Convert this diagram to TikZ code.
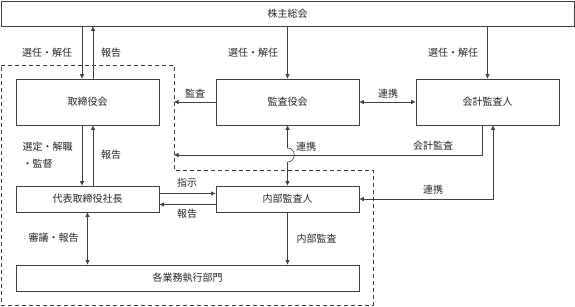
\documentclass[tikz,border=0pt]{standalone}
\usepackage{fontspec}
\newfontfamily\jpfont{Noto Sans CJK JP}
\usetikzlibrary{arrows.meta,calc}
\tikzset{
  % --- generic nodes ---------------------------------------------------
  base/.style    ={draw=black!75, line width=0.6pt, inner sep=0pt,
                   font=\jpfont\fontsize{10}{12}\selectfont, text=black!85},
  box/.style     ={base, rectangle, fill=white},
  % --- arrows ----------------------------------------------------------
  arrow/.style   ={-{Latex[length=4.5pt,width=4.5pt]}, line width=0.6pt, draw=black!75},
  dbarrow/.style ={{Latex[length=4.5pt,width=4.5pt]}-{Latex[length=4.5pt,width=4.5pt]},
                   line width=0.6pt, draw=black!75},
  % --- containers / annotation ----------------------------------------
  group/.style   ={draw=black!75, line width=0.6pt, dash pattern=on 4pt off 3pt},
  lab/.style     ={font=\jpfont\fontsize{10}{12}\selectfont, text=black!85,
                   inner sep=0pt, align=left},
}

\begin{document}
\begin{tikzpicture}[x=1pt,y=1pt]
  \useasboundingbox (0,0) rectangle (575,307);

  % ============================= dashed scope =============================
  \draw[group] (1,242) -- (174,242) -- (174,137) -- (373,137) -- (373,2) -- (1,2) -- cycle;
  \coordinate (gA) at (174,205);
  \coordinate (gB) at (174,152);

  % ============================= boxes =============================
  \node[box, minimum width=573, minimum height=25] (sh)   at (287.5,293.5) {株主総会};
  \node[box, minimum width=143, minimum height=46] (brd)  at (87.5,205)   {取締役会};
  \node[box, minimum width=143, minimum height=46] (aud)  at (287.5,205)  {監査役会};
  \node[box, minimum width=143, minimum height=46] (acc)  at (487.5,205)  {会計監査人};
  \node[box, minimum width=143, minimum height=26] (ceo)  at (87.5,108)   {代表取締役社長};
  \node[box, minimum width=143, minimum height=26] (ia)   at (287.5,108)  {内部監査人};
  \node[box, minimum width=343, minimum height=26] (div)  at (187.5,29)   {各業務執行部門};

  \coordinate (brdL) at ([xshift=-5.5pt]brd.north);
  \coordinate (brdR) at ([xshift=5.5pt]brd.north);
  \coordinate (brdLs) at ([xshift=-5.5pt]brd.south);
  \coordinate (brdRs) at ([xshift=5.5pt]brd.south);
  \coordinate (accL) at ([xshift=-5.5pt]acc.south);
  \coordinate (accR) at ([xshift=5.5pt]acc.south);

  % ============================= edges =============================
  % shareholders <-> boards
  \draw[arrow] (brdL |- sh.south) -- (brdL);
  \draw[arrow] (brdR) -- (brdR |- sh.south);
  \draw[arrow] (aud.north |- sh.south) -- (aud.north);
  \draw[arrow] (acc.north |- sh.south) -- (acc.north);
  % audit / cooperation
  \draw[arrow] (aud.west) -- (gA);
  \draw[dbarrow] (aud.east) -- (acc.west);
  \draw[arrow] (accL) |- (gB);
  \draw[dbarrow] (accR) |- (ia.east);
  \draw[dbarrow] (aud.south) -- (287.5,159)
    .. controls (296.5,159) and (296.5,145) .. (287.5,145) -- (ia.north);
  % board <-> president
  \draw[arrow] (brdLs) -- (brdLs |- ceo.north);
  \draw[arrow] (brdRs |- ceo.north) -- (brdRs);
  % president <-> internal audit
  \draw[arrow] ([yshift=5.5pt]ceo.east) -- ([yshift=5.5pt]ia.west);
  \draw[arrow] ([yshift=-5.5pt]ia.west) -- ([yshift=-5.5pt]ceo.east);
  % down to divisions
  \draw[dbarrow] (ceo.south) -- (ceo.south |- div.north);
  \draw[arrow] (ia.south) -- (ia.south |- div.north);

  % ============================= labels =============================
  \node[lab] (l1)  at (47,254)  {選任・解任};
  \node[lab] (l2)  at (111,254) {報告};
  \node[lab] (l3)  at (253,254) {選任・解任};
  \node[lab] (l4)  at (453,254) {選任・解任};
  \node[lab] (l5)  at (195,213) {監査};
  \node[lab] (l6)  at (388,213) {連携};
  \node[lab] (l7)  at (433,161) {会計監査};
  \node[lab] (l8)  at (306,160) {連携};
  \node[lab] (l9)  at (433,117) {連携};
  \node[lab] (l10) at (47.5,151.5) {選定・解職\\[5pt]・監督};
  \node[lab] (l11) at (111,152) {報告};
  \node[lab] (l12) at (187,124) {指示};
  \node[lab] (l13) at (187,93)  {報告};
  \node[lab] (l14) at (53.5,69) {審議・報告};
  \node[lab] (l15) at (316.5,68) {内部監査};

\end{tikzpicture}
\end{document}
